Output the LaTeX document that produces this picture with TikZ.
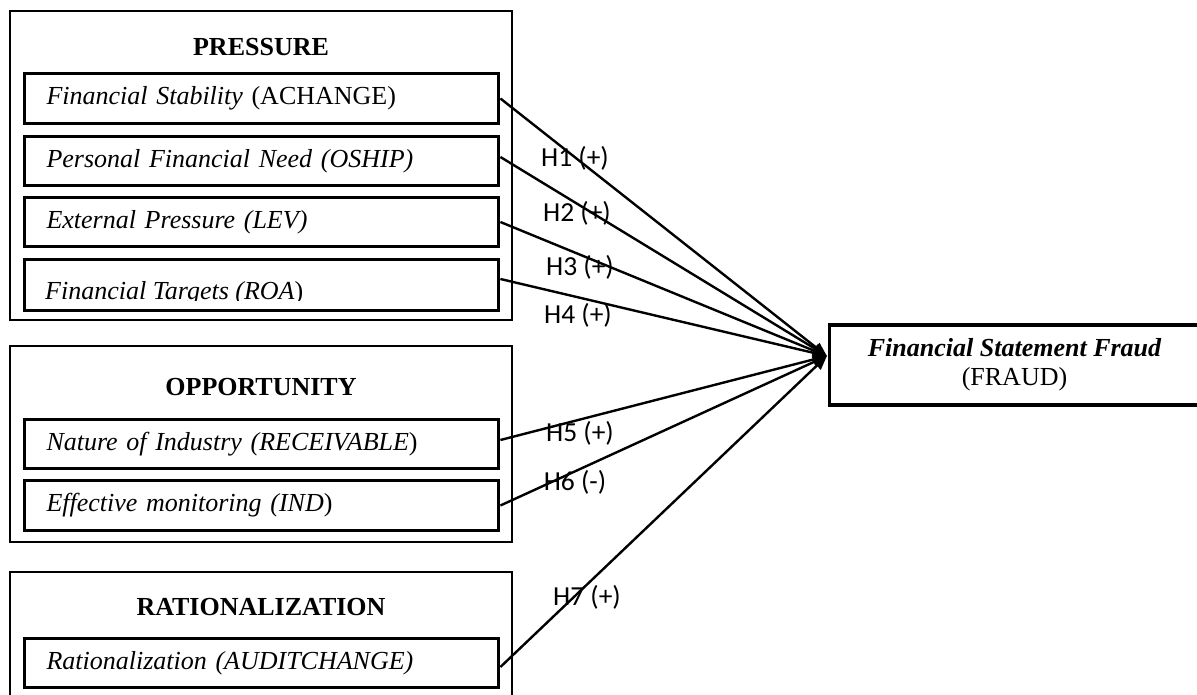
\documentclass[tikz,border=0pt]{standalone}
\usepackage{fontspec}
\setmainfont{Liberation Serif}
\newfontfamily\lblfont{Carlito}
\usetikzlibrary{arrows.meta,calc}
\begin{document}
\begin{tikzpicture}[x=1pt,y=-1pt,
  outerbox/.style={draw, line width=2.6pt, inner sep=0pt, minimum width=502pt},
  itembox/.style={draw, line width=3.8pt, minimum width=474pt, text width=430pt,
    align=left, inner xsep=22pt, inner ysep=0pt, font=\fontsize{26}{30}\selectfont},
  titletext/.style={font=\fontsize{26}{30}\selectfont\bfseries, inner sep=0pt},
  hyplabel/.style={font=\lblfont\fontsize{27.5}{30}\selectfont, inner sep=0pt},
  conn/.style={line width=2.4pt, -{Triangle[length=14pt,width=11pt]}},
  targetbox/.style={draw, line width=3.2pt, minimum width=370pt, minimum height=80pt,
    align=center, font=\fontsize{26}{29}\selectfont, inner sep=0pt}
]
\useasboundingbox (0,0) rectangle (1197,695);
\clip (0,0) rectangle (1197,695);

% outer group boxes
\node[outerbox, minimum height=309pt] (pressure) at (261,165.5) {};
\node[outerbox, minimum height=196pt] (opportunity) at (261,444) {};
\node[outerbox, minimum height=170pt] (rational) at (261,657) {};

% titles
\node[titletext] (tp) at (261,47) {PRESSURE};
\node[titletext] (to) at (261,387) {OPPORTUNITY};
\node[titletext] (tr) at (261,607) {RATIONALIZATION};

% item boxes
\node[itembox, minimum height=50pt] (b1) at (261.5,98.5) {\itshape Financial Stability\upshape{} (ACHANGE)};
\node[itembox, minimum height=49pt] (b2) at (261.5,161) {\itshape Personal Financial Need (OSHIP)};
\node[itembox, minimum height=49pt] (b3) at (261.5,222) {\itshape External Pressure (LEV)};
\node[itembox, minimum height=51pt] (b4) at (261.5,285) {};
\begin{scope}
  \clip (25,260) rectangle (498,300);
  \node[font=\fontsize{26}{30}\selectfont, anchor=base west, inner sep=0pt] (b4t) at (45,299) {\itshape Financial Targets (ROA\upshape)};
\end{scope}
\node[itembox, minimum height=49pt] (b5) at (261.5,444) {\itshape Nature of Industry (RECEIVABLE\upshape)};
\node[itembox, minimum height=50pt] (b6) at (261.5,505.5) {\itshape Effective monitoring (IND\upshape)};
\node[itembox, minimum height=49pt] (b7) at (261.5,663) {\itshape Rationalization (AUDITCHANGE)};

% target
\node[targetbox] (fraud) at (1014.5,365) {{\bfseries\itshape Financial Statement Fraud}\\(FRAUD)};
\coordinate (tip) at ($(fraud.west)+(-1,-9)$);

% connectors
\draw[conn] (b1.east) -- (tip);
\draw[conn] ($(b2.east)+(0,-4)$) -- (tip);
\draw[conn] (b3.east) -- (tip);
\draw[conn] ($(b4.east)+(0,-6)$) -- (tip);
\draw[conn] ($(b5.east)+(0,-4)$) -- (tip);
\draw[conn] (b6.east) -- (tip);
\draw[conn] ($(b7.east)+(0,4)$) -- (tip);

% labels
\node[hyplabel] (l1) at (575,158) {H1 (+)};
\node[hyplabel] (l2) at (577,213) {H2 (+)};
\node[hyplabel] (l3) at (580,267) {H3 (+)};
\node[hyplabel] (l4) at (578,315) {H4 (+)};
\node[hyplabel] (l5) at (580,433) {H5 (+)};
\node[hyplabel] (l6) at (575,482) {H6 (-)};
\node[hyplabel] (l7) at (587,597) {H7 (+)};
\end{tikzpicture}
\end{document}
